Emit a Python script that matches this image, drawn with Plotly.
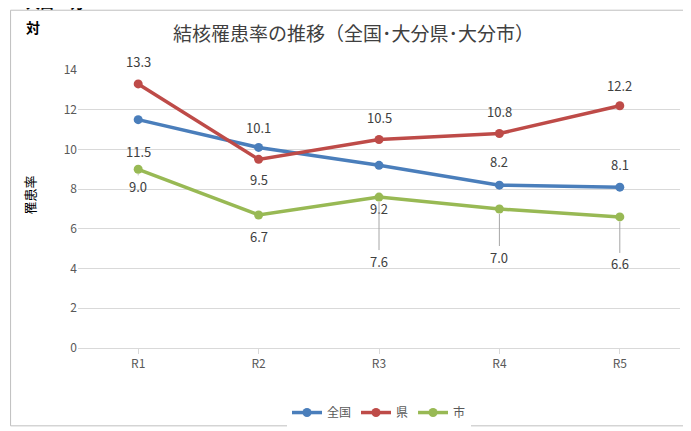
import plotly.graph_objects as go

cats = ["R1", "R2", "R3", "R4", "R5"]
zenkoku = [11.5, 10.1, 9.2, 8.2, 8.1]
ken = [13.3, 9.5, 10.5, 10.8, 12.2]
shi = [9.0, 6.7, 7.6, 7.0, 6.6]

# label offsets in px (positive = below), and whether a leader line is drawn
off_z = [32, -20, 43, -24, -23]
off_k = [-22, 20, -22, -22, -20]
off_s = [17, 22, 64, 48, 47]
lead_s = [True, False, True, True, True]

colors = ["#4a7ebb", "#be4b48", "#98b954"]
fig = go.Figure()
for name, vals, c in [("全国", zenkoku, colors[0]), ("県", ken, colors[1]), ("市", shi, colors[2])]:
    fig.add_trace(go.Scatter(x=cats, y=vals, name=name, mode="lines+markers",
                             line=dict(color=c, width=3.5), marker=dict(size=9, color=c)))

ann = []
def add(vals, offs, leads):
    for x, v, o, l in zip(cats, vals, offs, leads):
        if l:
            ann.append(dict(x=x, y=v, text=f"{v:.1f}", showarrow=True, ax=0, ay=o,
                            arrowhead=0, arrowcolor="#a6a6a6", arrowwidth=1, standoff=5,
                            font=dict(size=13, color="#404040")))
        else:
            ann.append(dict(x=x, y=v, text=f"{v:.1f}", showarrow=False, yshift=-o,
                            font=dict(size=13, color="#404040")))
add(zenkoku, off_z, [False]*5)
add(ken, off_k, [False]*5)
add(shi, off_s, lead_s)
ann.append(dict(xref="paper", yref="paper", x=-0.09, y=1.2, xanchor="left", yanchor="bottom",
                text="<b>人口10万</b>", showarrow=False, font=dict(size=14, color="#000")))
ann.append(dict(xref="paper", yref="paper", x=-0.09, y=1.11, xanchor="left", yanchor="bottom",
                text="<b>対</b>", showarrow=False, font=dict(size=14, color="#000")))
ann.append(dict(xref="paper", yref="paper", x=-0.1, y=0.55, text="罹患率", textangle=-90,
                showarrow=False, font=dict(size=13, color="#000")))

fig.update_layout(
    width=691, height=431, margin=dict(l=70, r=19, t=62, b=82),
    paper_bgcolor="white", plot_bgcolor="white",
    font=dict(family="Noto Sans CJK JP", color="#595959"),
    title=dict(text="結核罹患率の推移（全国･大分県･大分市）", x=0.5, y=0.955, xanchor="center",
               font=dict(size=19, color="#404040")),
    xaxis=dict(range=[-0.5, 4.5], showline=True, linecolor="#d9d9d9", ticks="outside",
               tickcolor="#d9d9d9", tickfont=dict(size=12, color="#595959")),
    yaxis=dict(range=[0, 14], dtick=2, showgrid=True, gridcolor="#d9d9d9", zeroline=False,
               tickfont=dict(size=12, color="#595959")),
    legend=dict(orientation="h", x=0.5, xanchor="center", y=-0.18, yanchor="top",
                font=dict(size=12, color="#595959")),
    annotations=ann,
    shapes=[dict(type="rect", xref="paper", yref="paper", x0=-0.112, x1=1.026, y0=-0.28, y1=1.215,
                 line=dict(color="#bfbfbf", width=1))],
)
fig.write_html("out.html")
